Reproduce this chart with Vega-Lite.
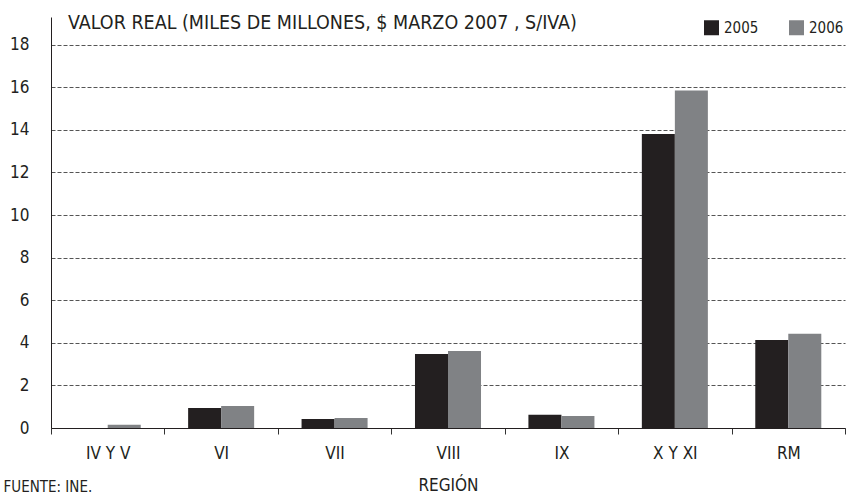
{
  "$schema": "https://vega.github.io/schema/vega-lite/v6.json",
  "width": 794,
  "height": 411,
  "autosize": {"type": "none"},
  "padding": {"left": 51, "top": 17, "right": 1, "bottom": 66},
  "background": "white",
  "title": {
    "text": "VALOR REAL (MILES DE MILLONES, $ MARZO 2007 , S/IVA)",
    "orient": "top",
    "anchor": "start",
    "frame": "group",
    "offset": -16,
    "dx": 17,
    "font": "DejaVu Sans Condensed",
    "fontSize": 19.5,
    "fontWeight": "normal",
    "color": "#231f20"
  },
  "data": {
    "values": [
      {"region": "IV Y V", "year": "2005", "value": 0},
      {"region": "IV Y V", "year": "2006", "value": 0.15},
      {"region": "VI", "year": "2005", "value": 0.94},
      {"region": "VI", "year": "2006", "value": 1.03},
      {"region": "VII", "year": "2005", "value": 0.42},
      {"region": "VII", "year": "2006", "value": 0.47},
      {"region": "VIII", "year": "2005", "value": 3.48},
      {"region": "VIII", "year": "2006", "value": 3.62},
      {"region": "IX", "year": "2005", "value": 0.62},
      {"region": "IX", "year": "2006", "value": 0.56},
      {"region": "X Y XI", "year": "2005", "value": 13.8},
      {"region": "X Y XI", "year": "2006", "value": 15.85},
      {"region": "RM", "year": "2005", "value": 4.13},
      {"region": "RM", "year": "2006", "value": 4.42}
    ]
  },
  "mark": {"type": "bar"},
  "encoding": {
    "x": {
      "field": "region",
      "type": "nominal",
      "sort": ["IV Y V", "VI", "VII", "VIII", "IX", "X Y XI", "RM"],
      "scale": {"paddingInner": 0, "paddingOuter": 0},
      "axis": {
        "title": "REGIÓN",
        "titleFont": "DejaVu Sans Condensed",
        "titleFontSize": 17,
        "titleFontWeight": "normal",
        "titleColor": "#231f20",
        "titlePadding": 16,
        "labelAngle": 0,
        "labelFont": "DejaVu Sans Condensed",
        "labelFontSize": 17,
        "labelColor": "#231f20",
        "labelPadding": 11,
        "tickBand": "extent",
        "tickSize": 6,
        "tickColor": "#333333",
        "domainColor": "#231f20",
        "grid": false
      }
    },
    "xOffset": {
      "field": "year",
      "type": "nominal",
      "scale": {"paddingInner": 0, "paddingOuter": 0.718}
    },
    "y": {
      "field": "value",
      "type": "quantitative",
      "scale": {"domain": [0, 19.3], "nice": false},
      "axis": {
        "values": [0, 2, 4, 6, 8, 10, 12, 14, 16, 18],
        "title": "FUENTE: INE.",
        "titleAngle": 0,
        "titleAlign": "left",
        "titleBaseline": "alphabetic",
        "titleX": -48,
        "titleY": 474,
        "titleFont": "DejaVu Sans Condensed",
        "titleFontSize": 15,
        "titleFontWeight": "normal",
        "titleColor": "#231f20",
        "labelFont": "DejaVu Sans Condensed",
        "labelFontSize": 17,
        "labelColor": "#231f20",
        "labelPadding": 22,
        "ticks": false,
        "domainColor": "#231f20",
        "grid": true,
        "gridColor": "#555555",
        "gridDash": [4, 2],
        "gridWidth": 1
      }
    },
    "color": {
      "field": "year",
      "type": "nominal",
      "scale": {"domain": ["2005", "2006"], "range": ["#231f20", "#808285"]},
      "legend": {
        "title": null,
        "orient": "none",
        "legendX": 653,
        "legendY": 3,
        "direction": "horizontal",
        "columns": 2,
        "columnPadding": 30,
        "symbolType": "square",
        "symbolSize": 225,
        "symbolStrokeWidth": 0,
        "labelFont": "DejaVu Sans Condensed",
        "labelFontSize": 15,
        "labelColor": "#231f20",
        "labelOffset": 5,
        "padding": 0
      }
    }
  },
  "config": {
    "view": {"stroke": null}
  }
}
